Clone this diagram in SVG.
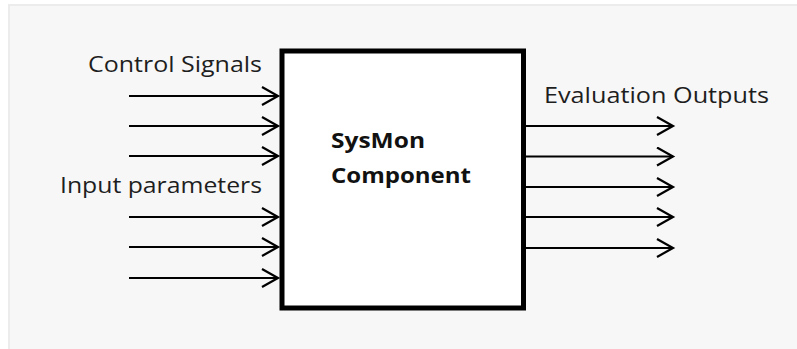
<svg xmlns="http://www.w3.org/2000/svg" width="797" height="349" viewBox="0 0 797 349">
<defs>
<style>
.lbl{font-family:"Open Sans","Liberation Sans",sans-serif;font-size:21px;fill:#1e1e1e}
.bold{font-family:"Open Sans","Liberation Sans",sans-serif;font-size:21px;font-weight:bold;fill:#111}
.arr{stroke:#000;stroke-width:2.2;fill:none}
.head{stroke:#000;stroke-width:2.2;fill:none;stroke-linejoin:miter}
</style>
<marker id="open" markerUnits="userSpaceOnUse" markerWidth="20" markerHeight="22" refX="17" refY="10" orient="auto">
<path d="M1,1 L17,10 L1,19" class="head"/>
</marker>
</defs>
<rect x="0" y="0" width="797" height="349" fill="#ffffff"/>
<rect x="8" y="4" width="790" height="346" fill="#ececec"/>
<rect x="10" y="6" width="788" height="344" fill="#f7f7f7"/>
<g id="connectors">
<line class="arr" x1="129" y1="96" x2="278" y2="96" marker-end="url(#open)"/>
<line class="arr" x1="129" y1="126" x2="278" y2="126" marker-end="url(#open)"/>
<line class="arr" x1="129" y1="156" x2="278" y2="156" marker-end="url(#open)"/>
<line class="arr" x1="129" y1="217" x2="278" y2="217" marker-end="url(#open)"/>
<line class="arr" x1="129" y1="247" x2="278" y2="247" marker-end="url(#open)"/>
<line class="arr" x1="129" y1="278" x2="278" y2="278" marker-end="url(#open)"/>
<line class="arr" x1="523" y1="126" x2="673" y2="126" marker-end="url(#open)"/>
<line class="arr" x1="523" y1="156.5" x2="673" y2="156.5" marker-end="url(#open)"/>
<line class="arr" x1="523" y1="187" x2="673" y2="187" marker-end="url(#open)"/>
<line class="arr" x1="523" y1="217" x2="673" y2="217" marker-end="url(#open)"/>
<line class="arr" x1="523" y1="248" x2="673" y2="248" marker-end="url(#open)"/>
</g>
<g id="sysmon">
<rect x="282" y="51" width="241.5" height="257" fill="#ffffff" stroke="#000" stroke-width="5"/>
<text class="bold" x="331" y="148" textLength="94" lengthAdjust="spacingAndGlyphs">SysMon</text>
<text class="bold" x="331" y="183" textLength="140" lengthAdjust="spacingAndGlyphs">Component</text>
</g>
<g id="control-signals">
<text class="lbl" x="88" y="72" textLength="174" lengthAdjust="spacingAndGlyphs">Control Signals</text>
</g>
<g id="input-parameters">
<text class="lbl" x="60" y="193" textLength="202" lengthAdjust="spacingAndGlyphs">Input parameters</text>
</g>
<g id="evaluation-outputs">
<text class="lbl" x="544" y="103" textLength="225" lengthAdjust="spacingAndGlyphs">Evaluation Outputs</text>
</g>
</svg>
